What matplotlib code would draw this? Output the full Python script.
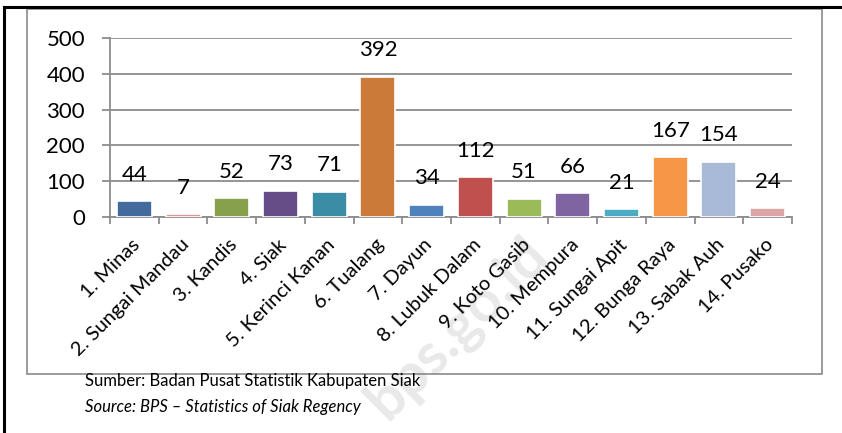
import matplotlib
matplotlib.use("Agg")
import matplotlib.pyplot as plt
from matplotlib.patches import Rectangle
from matplotlib.lines import Line2D
from matplotlib.transforms import ScaledTranslation

categories = ["1. Minas", "2. Sungai Mandau", "3. Kandis", "4. Siak", "5. Kerinci Kanan",
              "6. Tualang", "7. Dayun", "8. Lubuk Dalam", "9. Koto Gasib", "10. Mempura",
              "11. Sungai Apit", "12. Bunga Raya", "13. Sabak Auh", "14. Pusako"]
values = [44, 7, 52, 73, 71, 392, 34, 112, 51, 66, 21, 167, 154, 24]
colors = ["#436A9C", "#D99795", "#87A04C", "#674D88", "#3A8DA4", "#CB7A3A", "#4F81BD",
          "#C0504D", "#9BBB59", "#8064A2", "#4BACC6", "#F79646", "#A9B9D8", "#DCA4A4"]
yticks = [0, 100, 200, 300, 400, 500]
source_id = "Sumber: Badan Pusat Statistik Kabupaten Siak"
source_en = "Source: BPS \u2013 Statistics of Siak Regency"
watermark = "bps.go.id"

plt.rcParams['font.family'] = ['Lato', 'DejaVu Sans']

fig = plt.figure(figsize=(8.42, 4.33), dpi=100)
W, H = 842, 433

# watermark (behind everything)
fig.text(458/W, 1 - 328/H, watermark, fontsize=42, fontweight="bold", color="#e9e9e9",
         rotation=45, ha="center", va="center", zorder=-5)

# outer frame lines
fig.add_artist(Line2D([4/W, 4/W], [0, 1 - 7/H], color="black", lw=2.2, transform=fig.transFigure))
fig.add_artist(Line2D([4/W, 1], [1 - 7/H, 1 - 7/H], color="black", lw=2.2, transform=fig.transFigure))
# grey chart box
fig.add_artist(Rectangle((27/W, 1 - 374/H), (822 - 27)/W, (374 - 9)/H, fill=False,
                         edgecolor="#8a8a8a", lw=1.2, transform=fig.transFigure))

ax = fig.add_axes([110/W, 1 - 217/H, (792 - 110)/W, (217 - 38)/H])
ax.patch.set_alpha(0)
x = list(range(len(categories)))
ax.bar(x, values, width=0.72, color=colors, edgecolor="white", linewidth=1.2, zorder=3)
for xi, v in zip(x, values):
    ax.annotate(str(v), (xi, v), xytext=(0, 19), textcoords="offset points",
                ha="center", va="center", fontsize=16, color="black", zorder=4)

ax.set_xlim(-0.5, len(categories) - 0.5)
ax.set_ylim(0, 500)
ax.set_yticks(yticks)
ax.set_yticklabels([str(t) for t in yticks], fontsize=16)
ax.yaxis.grid(True, color="#8c8c8c", lw=1.3, zorder=0)
ax.set_axisbelow(True)
for s in ["top", "right"]:
    ax.spines[s].set_visible(False)
ax.spines["left"].set_color("#8c8c8c")
ax.spines["bottom"].set_color("#8c8c8c")
ax.spines["left"].set_linewidth(1.3)
ax.spines["bottom"].set_linewidth(1.3)
ax.tick_params(axis="y", length=6, color="#8c8c8c", width=1.3, pad=12)

# category ticks between categories
ax.set_xticks([i - 0.5 for i in range(len(categories) + 1)], minor=False)
ax.set_xticklabels([])
ax.tick_params(axis="x", which="major", length=5, color="#8c8c8c", width=1.3)
ax.set_xticks(x, minor=True)
ax.set_xticklabels(categories, minor=True, rotation=45, ha="right", va="center",
                   rotation_mode="anchor", fontsize=14.5)
ax.tick_params(axis="x", which="minor", length=0, pad=18)
offset = ScaledTranslation(3/100, 0, fig.dpi_scale_trans)
for lab in ax.get_xticklabels(minor=True):
    lab.set_transform(lab.get_transform() + offset)

fig.text(85/W, 1 - 381/H, source_id, fontsize=12, ha="left", va="center")
fig.text(85/W, 1 - 407/H, source_en, fontsize=12, ha="left", va="center", style="italic")

fig.savefig("out.png", dpi=100)
